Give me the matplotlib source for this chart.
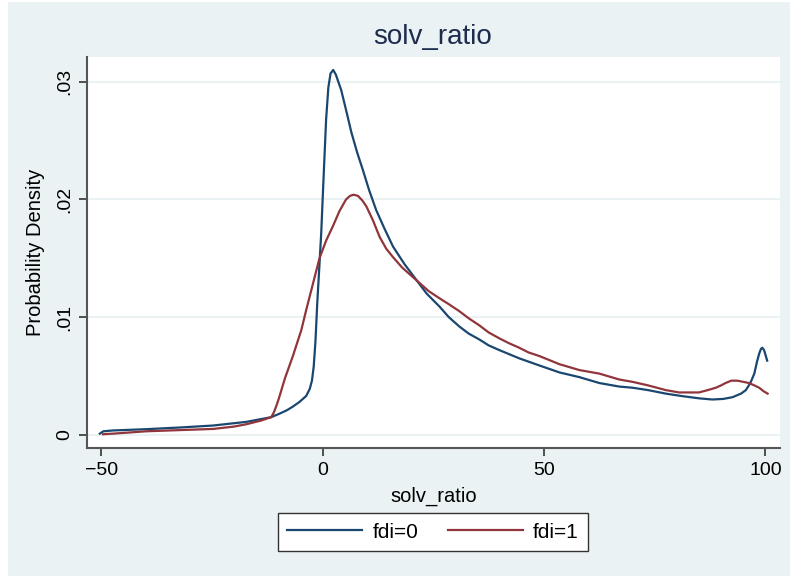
import matplotlib
matplotlib.use("Agg")
import matplotlib.pyplot as plt
from matplotlib.patches import Rectangle

plt.rcParams['font.family'] = ['Liberation Sans', 'DejaVu Sans']

# density curves (solv_ratio, density)
x_fdi0 = [-50.3, -49.5, -47.3, -39.8, -32.3, -24.7, -17.2, -11.6, -9.7, -8.0,
          -6.7, -5.2, -3.7, -2.9, -2.4, -2.0, -1.6, -1.2, -0.7, -0.3,
          0.3, 0.8, 1.3, 1.8, 2.4, 3.0, 4.2, 5.3, 6.5, 7.8,
          9.1, 10.5, 12.1, 14.0, 15.9, 18.5, 21.1, 23.5, 26.4, 28.5,
          30.9, 33.0, 35.4, 37.5, 39.9, 44.4, 48.9, 53.5, 58.0, 62.5,
          67.0, 70.0, 73.5, 77.5, 81.0, 85.0, 88.0, 90.5, 92.6, 94.5,
          95.6, 96.6, 97.5, 98.1, 98.6, 99.0, 99.3, 99.7, 100.1, 100.4]
y_fdi0 = [0.0001, 0.0003, 0.00037, 0.00048, 0.00062, 0.00079, 0.0011, 0.0015, 0.0018, 0.0021,
          0.0024, 0.0028, 0.0033, 0.0039, 0.0046, 0.0058, 0.0080, 0.0112, 0.0145, 0.0172,
          0.0225, 0.0268, 0.0295, 0.0307, 0.0310, 0.0306, 0.0293, 0.0276, 0.0257, 0.0240,
          0.0225, 0.0208, 0.0191, 0.0175, 0.0160, 0.0145, 0.0132, 0.0120, 0.0109, 0.0100,
          0.0092, 0.0086, 0.0081, 0.0076, 0.0072, 0.0065, 0.0059, 0.0053, 0.0049, 0.0044,
          0.0041, 0.0040, 0.0038, 0.0035, 0.0033, 0.0031, 0.0030, 0.00305, 0.0032, 0.0035,
          0.0038, 0.0044, 0.0052, 0.0062, 0.0069, 0.0073, 0.0074, 0.0072, 0.0067, 0.0063]

x_fdi1 = [-49.6, -47.3, -39.8, -32.3, -24.7, -20.0, -17.2, -14.0, -11.6, -11.0,
          -10.3, -9.7, -8.5, -6.7, -4.8, -3.7, -2.2, -0.7, 0.8, 2.3,
          3.8, 5.3, 6.2, 7.0, 8.0, 9.0, 9.9, 11.4, 12.9, 14.4,
          15.9, 18.0, 20.4, 21.9, 24.0, 26.4, 28.5, 30.9, 33.0, 35.4,
          37.5, 39.9, 42.0, 44.4, 46.5, 48.9, 53.5, 58.0, 62.5, 67.0,
          70.0, 73.5, 77.5, 80.5, 85.0, 87.0, 88.8, 90.0, 91.0, 92.3,
          93.7, 95.0, 96.3, 97.5, 98.6, 99.6, 100.5]
y_fdi1 = [0.00005, 0.0001, 0.0003, 0.0004, 0.0005, 0.0007, 0.0009, 0.0012, 0.0015, 0.0019,
          0.0026, 0.0033, 0.0048, 0.0067, 0.0089, 0.0106, 0.0128, 0.0150, 0.0165, 0.0177,
          0.0190, 0.0200, 0.0203, 0.0204, 0.0203, 0.0199, 0.0194, 0.0182, 0.0168, 0.0158,
          0.0151, 0.0142, 0.0134, 0.0129, 0.0122, 0.0116, 0.0111, 0.0105, 0.0099, 0.0093,
          0.0087, 0.0082, 0.0078, 0.0074, 0.0070, 0.0067, 0.0060, 0.0055, 0.0052, 0.0047,
          0.0045, 0.0042, 0.0038, 0.0036, 0.0036, 0.0038, 0.0040, 0.0042, 0.0044, 0.0046,
          0.0046, 0.0045, 0.0044, 0.0042, 0.0040, 0.0037, 0.0035]

x_ticks = [-50, 0, 50, 100]
x_tick_labels = ['\u221250', '0', '50', '100']
y_ticks = [0, 0.01, 0.02, 0.03]
y_tick_labels = ['0', '.01', '.02', '.03']

navy = '#1a476f'
maroon = '#90353b'
bg = '#eaf2f3'

fig = plt.figure(figsize=(7.9, 5.76), dpi=100, facecolor='white')
# stata style outer panel, behind everything
fig.patches.append(Rectangle((8 / 790, 0), 1, 1 - 2 / 576, transform=fig.transFigure,
                             facecolor=bg, edgecolor='none', zorder=-10))

ax = fig.add_axes([87 / 790, 1 - 448 / 576, (780 - 87) / 790, (448 - 57) / 576])
ax.set_zorder(1)
ax.set_facecolor('white')

ax.plot(x_fdi0, y_fdi0, color=navy, lw=1.6, label='fdi=0')
ax.plot(x_fdi1, y_fdi1, color=maroon, lw=1.6, label='fdi=1')

ax.set_xlim(-53.2, 103.3)
ax.set_ylim(-0.00112, 0.0321)

ax.set_xticks(x_ticks)
ax.set_xticklabels(x_tick_labels, fontsize=14)
ax.set_yticks(y_ticks)
ax.set_yticklabels(y_tick_labels, fontsize=14, rotation=90, va='center')
ax.tick_params(direction='out', length=6, width=1.2, color='#333333', pad=4)

for yv in y_ticks:
    ax.axhline(yv, color=bg, lw=1.5, zorder=0)

for s in ['top', 'right']:
    ax.spines[s].set_visible(False)
for s in ['left', 'bottom']:
    ax.spines[s].set_color('#555555')
    ax.spines[s].set_linewidth(1.5)

ax.set_xlabel('solv_ratio', fontsize=14.5, labelpad=6)
ax.set_ylabel('Probability Density', fontsize=14.5, labelpad=8)
fig.text(433 / 790, 1 - 37 / 576, 'solv_ratio', fontsize=20, color='#1e2d4f',
         ha='center', va='center')

leg = fig.legend(loc='center', bbox_to_anchor=(433 / 790, 1 - 532 / 576), ncol=2,
                 fontsize=15, frameon=True, fancybox=False, handlelength=3.6,
                 handletextpad=0.5, columnspacing=1.4, borderpad=0.45, framealpha=1)
leg.get_frame().set_facecolor('white')
leg.get_frame().set_edgecolor('#333333')
leg.get_frame().set_linewidth(1.0)

fig.savefig('out.png', dpi=100, facecolor=fig.get_facecolor())
